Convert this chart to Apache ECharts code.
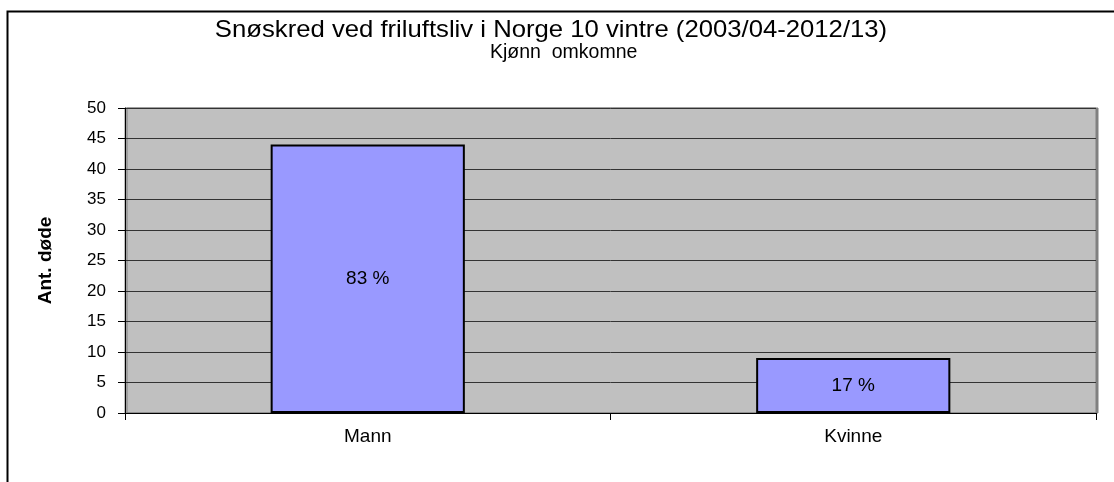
<!DOCTYPE html>
<html>
<head>
<meta charset="utf-8">
<script src="https://cdn.jsdelivr.net/npm/echarts@6/dist/echarts.min.js"></script>
<style>
html,body{margin:0;padding:0;background:#fff;}
#c{width:1114px;height:482px;}
</style>
</head>
<body>
<div id="c"></div>
<script>
const titleLines = ["Snøskred ved friluftsliv i Norge 10 vintre (2003/04-2012/13)", "Kjønn  omkomne"];
const categories = ["Mann", "Kvinne"];
const deaths = [44, 9];
const percentLabels = ["83 %", "17 %"];
const yAxisName = "Ant. døde";

const font = "'Liberation Sans', Arial, sans-serif";
const chart = echarts.init(document.getElementById('c'), null, {renderer: 'canvas'});
chart.setOption({
  animation: false,
  backgroundColor: '#ffffff',
  graphic: [{
    type: 'rect', left: 5, top: 9, silent: true, z: -1,
    shape: {width: 1300, height: 700},
    style: {fill: 'none', stroke: '#000', lineWidth: 2}
  }, {
    type: 'text', x: 551, y: 18, scaleX: 1.07, silent: true,
    style: {text: titleLines[0], align: 'center', verticalAlign: 'top',
      font: "24px 'Liberation Sans', Arial, sans-serif", fill: '#000'}
  }, {
    type: 'text', x: 490, y: 43, silent: true,
    style: {text: titleLines[1], align: 'left', verticalAlign: 'top',
      font: "19.5px 'Liberation Sans', Arial, sans-serif", fill: '#000'}
  }],
  grid: {
    left: 125, right: 18, top: 108, bottom: 69,
    show: true, backgroundColor: '#C0C0C0', borderColor: '#808080', borderWidth: 1,
    shadowColor: '#808080', shadowOffsetX: 2, shadowOffsetY: 0, shadowBlur: 0
  },
  xAxis: {
    type: 'category', data: categories,
    axisLine: {lineStyle: {color: '#000', width: 1}},
    axisTick: {show: true, alignWithLabel: false, length: 7, lineStyle: {color: '#000'}},
    axisLabel: {fontFamily: font, fontSize: 19, color: '#000', margin: 14},
    splitLine: {show: false}
  },
  yAxis: {
    type: 'value', min: 0, max: 50, interval: 5,
    name: yAxisName, nameLocation: 'middle', nameGap: 70, nameRotate: 90,
    nameTextStyle: {fontFamily: font, fontSize: 19, fontWeight: 'bold', color: '#000'},
    axisLine: {show: true, lineStyle: {color: '#000', width: 1}},
    axisTick: {show: true, length: 7, lineStyle: {color: '#000'}},
    axisLabel: {fontFamily: font, fontSize: 17, color: '#000', margin: 19},
    splitLine: {show: true, lineStyle: {color: '#333', width: 1}}
  },
  series: [{
    type: 'bar', data: deaths, barWidth: '40%',
    itemStyle: {color: '#9999FF', borderColor: '#000', borderWidth: 2},
    label: {
      show: true, position: 'inside',
      formatter: p => percentLabels[p.dataIndex],
      fontFamily: font, fontSize: 19, color: '#000'
    }
  }]
});
</script>
</body>
</html>
